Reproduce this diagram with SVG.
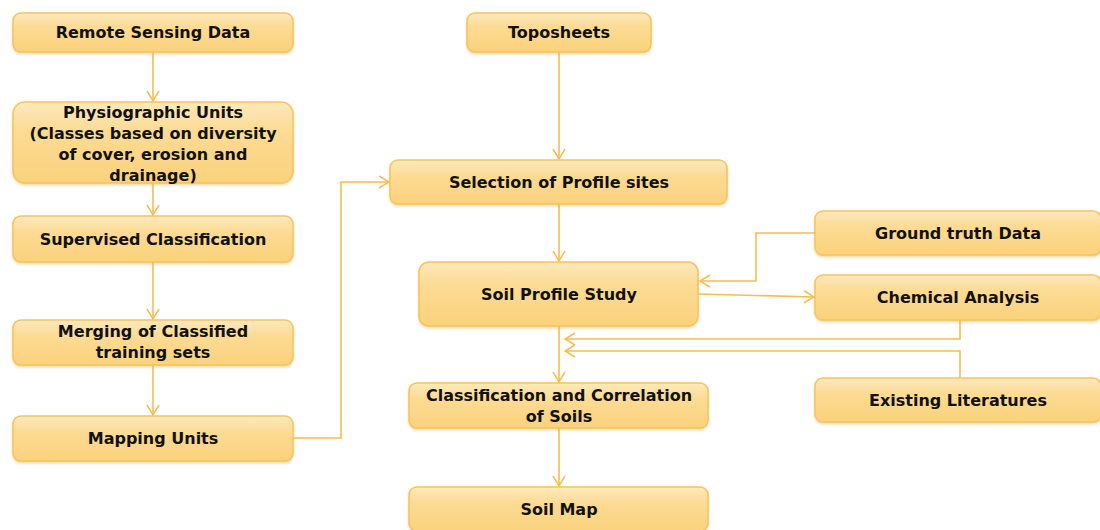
<svg xmlns="http://www.w3.org/2000/svg" width="1100" height="530" viewBox="0 0 1100 530">
<defs>
<linearGradient id="g" x1="0" y1="0" x2="0" y2="1">
<stop offset="0" stop-color="#fde9bd"/>
<stop offset="0.35" stop-color="#fcdb94"/>
<stop offset="1" stop-color="#fbd27c"/>
</linearGradient>
<marker id="ah" markerWidth="12" markerHeight="14" refX="11" refY="7" orient="auto" markerUnits="userSpaceOnUse">
<path d="M1,1 L11,7 L1,13" fill="none" stroke="#f5bd4f" stroke-width="1.5"/>
</marker>
<filter id="sh" x="-5%" y="-10%" width="110%" height="130%">
<feDropShadow dx="0" dy="1.5" stdDeviation="1.2" flood-color="#d9a840" flood-opacity="0.45"/>
</filter>
</defs>
<style>
.box{fill:url(#g);stroke:#f6c35c;stroke-width:1.5;filter:url(#sh)}
.t{font-family:"DejaVu Sans",Verdana,sans-serif;font-weight:bold;font-size:16px;fill:#111;text-anchor:middle}
.c{fill:none;stroke:#f5bd4f;stroke-width:1.6}
</style>
<rect width="1100" height="530" fill="#fff"/>
<g id="connectors">
<path class="c" d="M153,52 V101" marker-end="url(#ah)"/>
<path class="c" d="M153,183 V215" marker-end="url(#ah)"/>
<path class="c" d="M153,262 V319" marker-end="url(#ah)"/>
<path class="c" d="M153,365 V415" marker-end="url(#ah)"/>
<path class="c" d="M293,438 H341 V182 H389" marker-end="url(#ah)"/>
<path class="c" d="M559,52 V159" marker-end="url(#ah)"/>
<path class="c" d="M559,204 V261" marker-end="url(#ah)"/>
<path class="c" d="M815,233 H756 V281 H700" marker-end="url(#ah)"/>
<path class="c" d="M698,294 L814,297" marker-end="url(#ah)"/>
<path class="c" d="M960,320 V339 H565" marker-end="url(#ah)"/>
<path class="c" d="M960,378 V351 H565" marker-end="url(#ah)"/>
<path class="c" d="M559,326 V382" marker-end="url(#ah)"/>
<path class="c" d="M559,428 V486" marker-end="url(#ah)"/>
</g>
<g id="n-remote"><rect class="box" x="13" y="13" width="280" height="39" rx="8"/><text class="t" x="153" y="38">Remote Sensing Data</text></g>
<g id="n-physio"><rect class="box" x="13" y="102" width="280" height="81" rx="12"/>
<text class="t" x="153" y="118">Physiographic Units</text>
<text class="t" x="153" y="139">(Classes based on diversity</text>
<text class="t" x="153" y="160">of cover, erosion and</text>
<text class="t" x="153" y="181">drainage)</text></g>
<g id="n-supervised"><rect class="box" x="13" y="216" width="280" height="46" rx="8"/><text class="t" x="153" y="245">Supervised Classification</text></g>
<g id="n-merging"><rect class="box" x="13" y="320" width="280" height="45" rx="8"/>
<text class="t" x="153" y="337">Merging of Classified</text>
<text class="t" x="153" y="358">training sets</text></g>
<g id="n-mapping"><rect class="box" x="13" y="416" width="280" height="45" rx="8"/><text class="t" x="153" y="444">Mapping Units</text></g>
<g id="n-topo"><rect class="box" x="467" y="13" width="184" height="39" rx="8"/><text class="t" x="559" y="38">Toposheets</text></g>
<g id="n-selection"><rect class="box" x="390" y="160" width="337" height="44" rx="8"/><text class="t" x="559" y="188">Selection of Profile sites</text></g>
<g id="n-soilprofile"><rect class="box" x="419" y="262" width="279" height="64" rx="10"/><text class="t" x="559" y="300">Soil Profile Study</text></g>
<g id="n-classif"><rect class="box" x="409" y="383" width="299" height="45" rx="8"/>
<text class="t" x="559" y="401">Classification and Correlation</text>
<text class="t" x="559" y="422">of Soils</text></g>
<g id="n-soilmap"><rect class="box" x="409" y="487" width="299" height="44" rx="8"/><text class="t" x="559" y="515">Soil Map</text></g>
<g id="n-ground"><rect class="box" x="815" y="211" width="286" height="44" rx="8"/><text class="t" x="958" y="239">Ground truth Data</text></g>
<g id="n-chemical"><rect class="box" x="815" y="275" width="286" height="45" rx="8"/><text class="t" x="958" y="303">Chemical Analysis</text></g>
<g id="n-existing"><rect class="box" x="815" y="378" width="286" height="44" rx="8"/><text class="t" x="958" y="405.5">Existing Literatures</text></g>
</svg>
